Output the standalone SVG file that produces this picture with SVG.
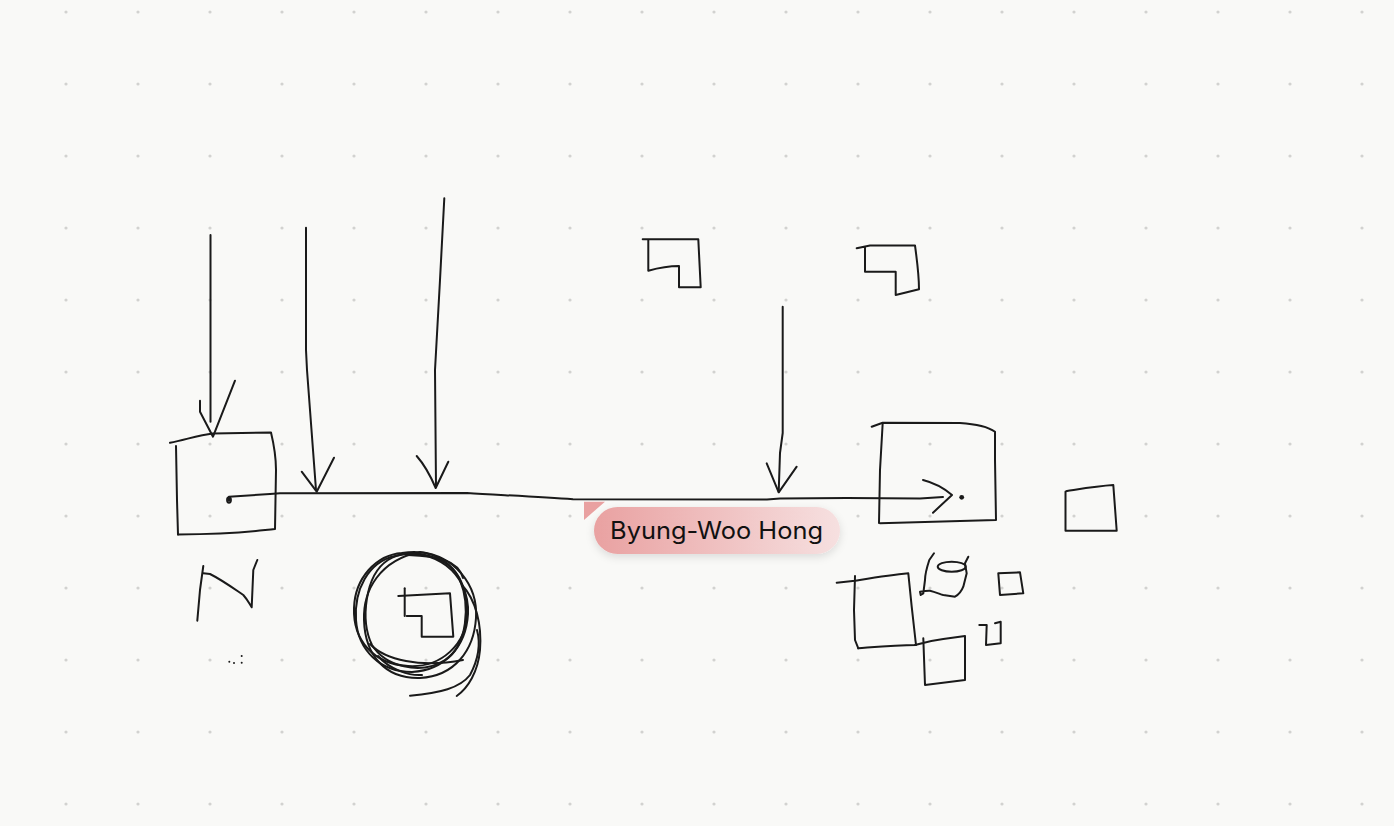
<svg xmlns="http://www.w3.org/2000/svg" width="1394" height="826" viewBox="0 0 1394 826">
<defs>
<pattern id="dots" patternUnits="userSpaceOnUse" x="30" y="-24" width="72" height="72">
<circle cx="36" cy="36" r="1.6" fill="#d2d2d0"/>
</pattern>
<linearGradient id="pill" x1="0" y1="0" x2="1" y2="0">
<stop offset="0" stop-color="#e9a1a1"/>
<stop offset="1" stop-color="#f6e0e0"/>
</linearGradient>
<filter id="sh" x="-10%" y="-30%" width="120%" height="170%">
<feDropShadow dx="0" dy="3" stdDeviation="4" flood-color="#000" flood-opacity="0.12"/>
</filter>
<style>
.s{fill:none;stroke:#1a1a1a;stroke-width:2;stroke-linecap:round;stroke-linejoin:round}
.t{font-family:Inter,"Liberation Sans",sans-serif;font-size:24px;fill:#111}
</style>
</defs>
<rect width="1394" height="826" fill="#f9f9f7"/>
<rect width="1394" height="826" fill="url(#dots)"/>

<g id="box-left">
<path class="s" d="M170,442.7 C185,440 198,435 213,433.5 L271,432.5 C274,445 276,460 276,470 L275,529 C255,531 240,534 178,534.5"/>
<path class="s" d="M176,446 L177,500 L178,534.5"/>
<ellipse cx="229" cy="500" rx="2" ry="2.8" fill="none" stroke="#1a1a1a" stroke-width="1.8"/>
</g>

<g id="box-right">
<path class="s" d="M871.7,426.7 L882.7,422.7 L960,423 C975,424 987,426 995,431.7 L995,460 L996,520 L880,523.3"/>
<path class="s" d="M882.7,423 L880,470 L879,523"/>
<circle cx="961.7" cy="497.3" r="2.4" fill="#1a1a1a"/>
</g>

<g id="box-small-right">
<path class="s" d="M1065.5,491.7 L1067,491 C1080,489 1097,486 1113.3,485 L1116.7,530.7 L1065.5,530.7 Z"/>
</g>

<g id="lshape-1">
<path class="s" d="M642.7,239.3 L698.3,239.3 L700.7,287.3 L679,287.3 L679,266 C668,266 658,268 648.3,270.7 L648.3,239.3"/>
</g>

<g id="lshape-2">
<path class="s" d="M856.7,248.3 L870,245.5 L915,245.5 C917,260 919,275 919,289.3 L895.7,295 L895.7,271.7 L865,271.7 L865,247.5"/>
</g>

<g id="scribble-n">
<path class="s" d="M197.3,620.7 L200,590 L203.3,566"/>
<path class="s" d="M203.3,573.3 L210,574 C222,580 233,588 243.3,595 C247,599 249,603 251.7,607.3 L253.3,570 L257.3,560"/>
<circle cx="229.3" cy="661.7" r="1" fill="#1a1a1a"/>
<circle cx="234" cy="663" r="1" fill="#1a1a1a"/>
<circle cx="241.7" cy="656" r="1" fill="#1a1a1a"/>
<circle cx="241.7" cy="662.7" r="1" fill="#1a1a1a"/>
</g>

<g id="circle-scribble">
<path class="s" d="M402,553 C440,547 466,570 467,610 C468,645 440,668 408,666 C373,664 353,640 354,608 C355,578 376,555 402,553"/>
<path class="s" d="M395,556 C432,546 470,572 468,614 C466,648 444,670 412,672 C380,672 358,650 356,620 C354,590 368,562 395,556"/>
<path class="s" d="M420,552 C455,556 478,585 476,618 C474,650 455,676 420,678 C385,679 365,655 364,620 C363,590 380,560 420,552"/>
<path class="s" d="M388,560 C410,546 450,556 460,580 C470,605 468,645 445,660 C420,676 385,666 372,645 C360,620 365,575 388,560"/>
<path class="s" d="M408,555 C438,556 458,560 463,578"/>
<path class="s" d="M370,644 C385,660 420,668 463,660"/>
<path class="s" d="M378,656 C390,670 410,676 422,675"/>
<path class="s" d="M410,695.7 C440,693 460,688 470,675 C478,660 481,645 477,630"/>
<path class="s" d="M456.7,696 C468,688 478,672 480,650 C482,625 476,600 462,585"/>
<path class="s" d="M398.3,596 L450,593.3 L453.3,636.7 L421.7,636.7 L421.7,616 L406.7,616"/>
<path class="s" d="M404.7,588.3 L404.7,616"/>
</g>

<g id="cluster">
<path class="s" d="M836.7,582.7 L855,580.7 C872,578 890,575 908.3,573.3 L911.7,606.7 L916,645 C895,645 875,647 858.3,648.3"/>
<path class="s" d="M855,576 L854,610 L855,640 L858.3,648.3"/>
<path class="s" d="M915,645 C925,642 935,640 943.3,639 L965,636 L965,680 L925,685 L923.3,638.3"/>
<path class="s" d="M934,553.3 L929.3,560 C927,567 925,574 925,580 L923.3,593.3 L920.7,595 L920,591.7 C924,591 927,590.5 930,590.7 C935,592 940,594 943.3,595 L955,596.7 C960,594 962,590 963.3,586.7 L966.7,573.3 L965,563.3 L968.3,556.7"/>
<ellipse class="s" cx="951.7" cy="566.7" rx="14" ry="5"/>
<path class="s" d="M998.3,573.3 L1020,572.3 L1023.3,593.3 L1000,595 L998.3,573.3"/>
<path class="s" d="M979.3,625 L986.7,625 L986,645 L1000.7,643.3 L1000.7,621.7 L995,623.3"/>
</g>

<g id="connectors">
<path class="s" d="M229,501 L229,496.7 L270,494 L280,493.3 L467,493 C500,495 540,497 573,499.3 L767,499.5 L780,498.5 L847,498 L920,498.5 L943,497"/>
<path class="s" d="M923,480 C935,483 945,489 952,495 L933,512.7"/>
<path class="s" d="M210.5,235 L210.5,421.7"/>
<path class="s" d="M200,400.7 L200,411.7 L213,436.7 L235,380.7"/>
<path class="s" d="M306,227.7 L306,350 L307,370 L316,490"/>
<path class="s" d="M301.7,471.7 L316.7,491.7 L334,457.7"/>
<path class="s" d="M444.3,198.3 L440,280 L435,370 L436,486.7"/>
<path class="s" d="M416.7,456 C422,462 428,470 435.7,488 L448.3,461.7"/>
<path class="s" d="M782.7,306.7 L782.7,433 L780,453 L778.7,491.7"/>
<path class="s" d="M766.7,463.3 L778.7,492.3 L796.7,466.7"/>
</g>

<g id="label">
<path d="M584,501.7 L605,501.7 L584,520 Z" fill="#e9a1a1"/>
<rect x="594" y="507" width="246" height="47" rx="23.5" fill="url(#pill)" filter="url(#sh)"/>
<text class="t" x="610" y="538.5" textLength="213" lengthAdjust="spacingAndGlyphs">Byung-Woo Hong</text>
</g>
</svg>
